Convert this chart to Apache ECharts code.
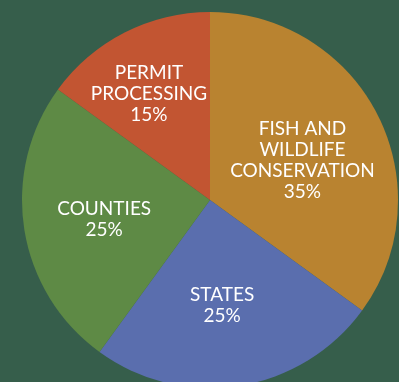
<!DOCTYPE html>
<html>
<head>
<meta charset="utf-8">
<style>
  html, body { margin: 0; padding: 0; background: #365e4b; }
  #chart { width: 399px; height: 382px; }
</style>
<script src="https://cdn.jsdelivr.net/npm/echarts@6/dist/echarts.min.js"></script>
</head>
<body>
<div id="chart"></div>
<script>
// Funding shares by program area
const categories = ['FISH AND\nWILDLIFE\nCONSERVATION', 'STATES', 'COUNTIES', 'PERMIT\nPROCESSING'];
const shares = [35, 25, 25, 15];
const colors = ['#b98330', '#5a6eae', '#5e8a45', '#c25532'];

// Label nudges from the default mid-slice spot (px)
const labelNudge = [[6, 4], [-3, 10], [-10, 4], [-17, -20]];

const chart = echarts.init(document.getElementById('chart'), null, { renderer: 'canvas' });
chart.setOption({
  backgroundColor: '#365e4b',
  animation: false,
  series: [{
    type: 'pie',
    center: [210, 200],
    radius: 188,
    startAngle: 90,
    clockwise: true,
    avoidLabelOverlap: false,
    data: categories.map((name, i) => ({
      name: name,
      value: shares[i],
      itemStyle: { color: colors[i] }
    })),
    label: {
      show: true,
      position: 'inside',
      formatter: p => p.name + '\n' + p.value + '%',
      color: '#ffffff',
      fontFamily: 'Lato',
      fontSize: 19,
      lineHeight: 21,
      align: 'center'
    },
    labelLine: { show: false },
    labelLayout: p => ({ dx: labelNudge[p.dataIndex][0], dy: labelNudge[p.dataIndex][1] }),
    emphasis: { disabled: true }
  }]
});
</script>
</body>
</html>
